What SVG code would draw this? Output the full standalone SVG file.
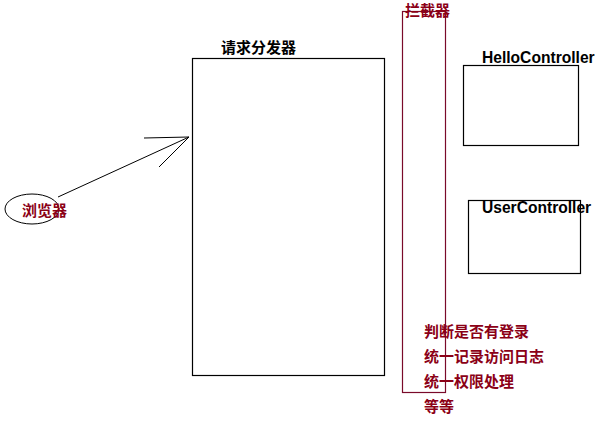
<svg xmlns="http://www.w3.org/2000/svg" width="611" height="433" viewBox="0 0 611 433">
<style>
.box{fill:none;stroke:#000;stroke-width:1.2}
.red{fill:#8b0016;font-family:"Noto Sans CJK SC","Liberation Sans",sans-serif;font-size:15px;font-weight:bold}
.blk{fill:#000;font-family:"Liberation Sans","Noto Sans CJK SC",sans-serif;font-size:15.6px;font-weight:bold}
.ln{stroke:#000;stroke-width:1;fill:none}
</style>
<rect width="611" height="433" fill="#fff"/>
<g id="browser">
<ellipse cx="32" cy="209" rx="27" ry="15" class="ln"/>
<text x="22" y="216" class="red">浏览器</text>
</g>
<g id="dispatcher">
<rect x="192.5" y="58.5" width="192" height="317" class="box"/>
<text x="221" y="53" class="blk" style="font-family:'Noto Sans CJK SC',sans-serif;font-size:15px">请求分发器</text>
</g>
<g id="interceptor">
<rect x="402.5" y="11.5" width="43" height="381" fill="none" stroke="#7a0a2a" stroke-width="1.2"/>
<text x="405" y="16" class="red">拦截器</text>
<text x="424" y="337" class="red">判断是否有登录</text>
<text x="424" y="362" class="red">统一记录访问日志</text>
<text x="424" y="387" class="red">统一权限处理</text>
<text x="424" y="412" class="red">等等</text>
</g>
<g id="hello">
<rect x="463.5" y="65.5" width="115" height="80" class="box"/>
<text x="482" y="63" class="blk">HelloController</text>
</g>
<g id="user">
<rect x="468.5" y="200.5" width="112" height="73" class="box"/>
<text x="482" y="213" class="blk">UserController</text>
</g>
<g id="connectors">
<line x1="58" y1="197" x2="189" y2="137" class="ln"/>
<line x1="144" y1="138" x2="189" y2="137" class="ln"/>
<line x1="159" y1="167" x2="189" y2="137" class="ln"/>
</g>
</svg>
